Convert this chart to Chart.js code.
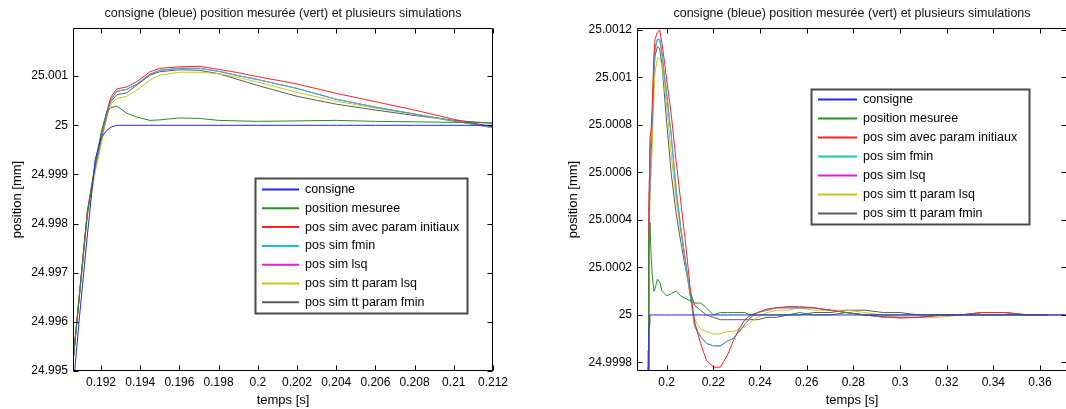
<!DOCTYPE html>
<html>
<head>
<meta charset="utf-8">
<title>Réponse indicielle - simulations</title>
<script src="https://cdn.jsdelivr.net/npm/chart.js@4/dist/chart.umd.min.js"></script>
<style>
    body { margin: 0; background: #fff; overflow: hidden; }
    #wrap { position: relative; width: 1066px; height: 409px; }
    #wrap canvas { position: absolute; top: 0; }
    #zoomChart { left: 0; }
    #fullChart { left: 533px; }
</style>
</head>
<body>
<div id="wrap">
    <canvas id="zoomChart" width="533" height="409"></canvas>
    <canvas id="fullChart" width="540" height="409"></canvas>
</div>
<script>
// ==========================
// DONNEES (temps en s, positions en mm)
// ==========================
const temps = [
    0.1905, 0.1909, 0.1913, 0.1917, 0.1920, 0.1923, 0.1925, 0.1928, 0.1933, 0.1938,
    0.1945, 0.1950, 0.1960, 0.1970, 0.1980, 0.1990, 0.2000, 0.2020, 0.2040, 0.2060,
    0.2080, 0.2100, 0.2120, 0.2145, 0.2170, 0.2200, 0.2230, 0.2260, 0.2285, 0.2310,
    0.2335, 0.2360, 0.2390, 0.2430, 0.2470, 0.2520, 0.2570, 0.2630, 0.2700, 0.2770,
    0.2850, 0.2930, 0.3000, 0.3080, 0.3170, 0.3260, 0.3350, 0.3450, 0.3550, 0.3635,
    0.3710
];

const consigne = [
    24.99430, 24.99610, 24.99775, 24.99930, 24.99974, 24.99990, 24.99996, 25.00000, 25.00000, 25.00000,
    25.00000, 25.00000, 25.00000, 25.00000, 25.00000, 25.00000, 25.00000, 25.00000, 25.00000, 25.00000,
    25.00000, 25.00000, 25.00000, 25.00000, 25.00000, 25.00000, 25.00000, 25.00000, 25.00000, 25.00000,
    25.00000, 25.00000, 25.00000, 25.00000, 25.00000, 25.00000, 25.00000, 25.00000, 25.00000, 25.00000,
    25.00000, 25.00000, 25.00000, 25.00000, 25.00000, 25.00000, 25.00000, 25.00000, 25.00000, 25.00000,
    25.00000
];

const positionMesuree = [
    24.99490, 24.99655, 24.99818, 24.99920, 24.99985, 25.00028, 25.00036, 25.00039, 25.00025, 25.00017,
    25.00010, 25.00011, 25.00015, 25.00014, 25.00010, 25.00009, 25.00008, 25.00009, 25.00010, 25.00008,
    25.00007, 25.00006, 25.00005, 25.00005, 25.00003, 25.00000, 25.00001, 25.00001, 25.00001, 25.00001,
    25.00001, 25.00000, 25.00000, 25.00000, 25.00000, 25.00000, 25.00001, 25.00000, 25.00000, 25.00001,
    25.00000, 25.00000, 25.00000, 25.00000, 25.00000, 25.00000, 25.00000, 25.00000, 25.00000, 25.00000,
    null
];

const simParamInitiaux = [
    24.99490, 24.99658, 24.99826, 24.99920, 24.99978, 25.00029, 25.00057, 25.00074, 25.00078, 25.00088,
    25.00109, 25.00116, 25.00119, 25.00120, 25.00114, 25.00107, 25.00099, 25.00084, 25.00065, 25.00048,
    25.00031, 25.00012, 24.99997, 24.99988, 24.99981, 24.99978, 24.99978, 24.99983, 24.99989, 24.99994,
    24.99998, 25.00000, 25.00001, 25.000025, 25.00003, 25.000035, 25.000035, 25.00003, 25.00002, 25.00001,
    25.00000, 24.999993, 24.999987, 24.99999, 24.999997, 25.00000, 25.00001, 25.00001, 25.00000, 25.00000,
    null
];

const simFmin = [
    24.99490, 24.99655, 24.99822, 24.99915, 24.99972, 25.00024, 25.00052, 25.00069, 25.00073, 25.00083,
    25.00104, 25.00112, 25.00116, 25.00116, 25.00110, 25.00101, 25.00093, 25.00075, 25.00053, 25.00037,
    25.00023, 25.00009, 24.99995, 24.99991, 24.99988, 24.99987, 24.99987, 24.99989, 24.99990, 24.99993,
    24.99996, 24.99999, 25.00001, 25.00002, 25.00003, 25.00003, 25.00003, 25.00003, 25.00002, 25.00001,
    25.00000, 24.99999, 24.99999, 24.99999, 25.00000, 25.00000, 25.00001, 25.00001, 25.00000, 25.00000,
    null
];

const simLsq = [
    24.99490, 24.99655, 24.99822, 24.99915, 24.99972, 25.00024, 25.00052, 25.00069, 25.00073, 25.00083,
    25.00104, 25.00112, 25.00116, 25.00116, 25.00110, 25.00101, 25.00093, 25.00075, 25.00053, 25.00037,
    25.00023, 25.00009, 24.99995, 24.99991, 24.99988, 24.99987, 24.99987, 24.99989, 24.99990, 24.99993,
    24.99996, 24.99999, 25.00001, 25.00002, 25.00003, 25.00003, 25.00003, 25.00003, 25.00002, 25.00001,
    25.00000, 24.99999, 24.99999, 24.99999, 25.00000, 25.00000, 25.00001, 25.00001, 25.00000, 25.00000,
    null
];

const simTtParamLsq = [
    24.99490, 24.99650, 24.99815, 24.99905, 24.99958, 25.00025, 25.00044, 25.00054, 25.00059, 25.00071,
    25.00092, 25.00102, 25.00108, 25.00108, 25.00105, 25.00097, 25.00088, 25.00067, 25.00049, 25.00035,
    25.00022, 25.00008, 24.99998, 24.99994, 24.99993, 24.99992, 24.99992, 24.99993, 24.99993, 24.99994,
    24.99995, 24.99997, 24.99999, 25.00001, 25.00002, 25.00002, 25.00003, 25.00002, 25.00002, 25.00002,
    25.00001, 25.00000, 24.99999, 24.99999, 24.99999, 25.00000, 25.00000, 25.00000, 25.00000, 25.00000,
    null
];

const simTtParamFmin = [
    24.99490, 24.99655, 24.99820, 24.99912, 24.99968, 25.00018, 25.00048, 25.00062, 25.00066, 25.00081,
    25.00102, 25.00109, 25.00113, 25.00112, 25.00105, 25.00093, 25.00081, 25.00059, 25.00043, 25.00031,
    25.00020, 25.00010, 25.00004, 25.00002, 25.00000, 24.99999, 24.99998, 24.99998, 24.99998, 24.99998,
    24.99998, 24.99998, 24.99998, 24.99999, 24.99999, 25.00000, 25.00000, 25.00001, 25.00001, 25.00002,
    25.00002, 25.00001, 25.00001, 25.00000, 25.00000, 25.00000, 25.00000, 25.00000, 25.00000, 25.00000,
    25.00000
];

const seriesNames = [
    'consigne',
    'position mesuree',
    'pos sim avec param initiaux',
    'pos sim fmin',
    'pos sim lsq',
    'pos sim tt param lsq',
    'pos sim tt param fmin'
];
const seriesValues = [consigne, positionMesuree, simParamInitiaux, simFmin, simLsq, simTtParamLsq, simTtParamFmin];
const seriesColors = ['#2626f2', '#1f931f', '#ff2020', '#1fc4c4', '#e01ee0', '#c8c81a', '#5a5a5a'];

// graduations
const zoomXTicks = [0.192, 0.194, 0.196, 0.198, 0.200, 0.202, 0.204, 0.206, 0.208, 0.210, 0.212];
const zoomXLabels = ['0.192', '0.194', '0.196', '0.198', '0.2', '0.202', '0.204', '0.206', '0.208', '0.21', '0.212'];
const zoomYTicks = [24.995, 24.996, 24.997, 24.998, 24.999, 25.000, 25.001];
const zoomYLabels = ['24.995', '24.996', '24.997', '24.998', '24.999', '25', '25.001'];

const fullXTicks = [0.20, 0.22, 0.24, 0.26, 0.28, 0.30, 0.32, 0.34, 0.36];
const fullXLabels = ['0.2', '0.22', '0.24', '0.26', '0.28', '0.3', '0.32', '0.34', '0.36'];
const fullYTicks = [24.9998, 25.0000, 25.0002, 25.0004, 25.0006, 25.0008, 25.0010, 25.0012];
const fullYLabels = ['24.9998', '25', '25.0002', '25.0004', '25.0006', '25.0008', '25.001', '25.0012'];

const titre = 'consigne (bleue) position mesurée (vert) et plusieurs simulations';

// ==========================
// PLUGINS : cadre + graduations internes, légende encadrée
// ==========================
const axesBox = {
    id: 'axesBox',
    afterDatasetsDraw(chart) {
        const { ctx, chartArea: a, scales } = chart;
        const L = Math.floor(a.left) + 0.5, R = Math.floor(a.right) - 0.5;
        const T = Math.floor(a.top) + 0.5, B = Math.floor(a.bottom) - 0.5;
        const len = 5;
        ctx.save();
        ctx.strokeStyle = '#000';
        ctx.lineWidth = 1;
        ctx.beginPath();
        ctx.rect(L, T, R - L, B - T);
        scales.x.ticks.forEach(t => {
            const px = Math.round(scales.x.getPixelForValue(t.value)) + 0.5;
            ctx.moveTo(px, B); ctx.lineTo(px, B - len);
            ctx.moveTo(px, T); ctx.lineTo(px, T + len);
        });
        scales.y.ticks.forEach(t => {
            const py = Math.round(scales.y.getPixelForValue(t.value)) + 0.5;
            ctx.moveTo(L, py); ctx.lineTo(L + len, py);
            ctx.moveTo(R, py); ctx.lineTo(R - len, py);
        });
        ctx.stroke();
        ctx.restore();
    }
};

const boxLegend = {
    id: 'boxLegend',
    afterDraw(chart, args, opts) {
        const { ctx } = chart;
        ctx.save();
        ctx.fillStyle = '#fff';
        ctx.fillRect(opts.x, opts.y, opts.w, opts.h);
        ctx.strokeStyle = '#4a4a4a';
        ctx.lineWidth = 2;
        ctx.strokeRect(opts.x + 0.5, opts.y + 0.5, opts.w, opts.h);
        ctx.font = '12.5px "Liberation Sans", Arial, sans-serif';
        ctx.textBaseline = 'middle';
        ctx.fillStyle = '#000';
        seriesNames.forEach((name, i) => {
            const y = opts.y + opts.row0 + i * opts.rowH;
            ctx.strokeStyle = seriesColors[i];
            ctx.lineWidth = 2;
            ctx.beginPath();
            ctx.moveTo(opts.x + 7, y);
            ctx.lineTo(opts.x + opts.lineEnd, y);
            ctx.stroke();
            ctx.fillText(name, opts.x + opts.textX, y);
        });
        ctx.restore();
    }
};

Chart.defaults.font.family = '"Liberation Sans", Arial, sans-serif';
Chart.defaults.font.size = 12;
Chart.defaults.color = '#000';

function buildDatasets() {
    return seriesValues.map((values, i) => ({
        label: seriesNames[i],
        data: temps.map((t, k) => ({ x: t, y: values[k] })).filter(p => p.y !== null),
        borderColor: seriesColors[i],
        borderWidth: 1,
        pointRadius: 0,
        tension: 0,
        fill: false
    }));
}

function makeChart(canvasId, cfg) {
    return new Chart(document.getElementById(canvasId), {
        type: 'line',
        data: { datasets: buildDatasets() },
        plugins: [axesBox, boxLegend],
        options: {
            responsive: false,
            animation: false,
            layout: { padding: cfg.padding },
            plugins: {
                legend: { display: false },
                tooltip: { enabled: false },
                title: {
                    display: true,
                    text: titre,
                    fullSize: false,
                    color: '#111',
                    font: { size: 12.5, weight: 'normal' },
                    padding: { top: 6.5, bottom: 6.5 }
                },
                boxLegend: cfg.legend
            },
            scales: {
                x: {
                    type: 'linear',
                    min: cfg.xMin,
                    max: cfg.xMax,
                    grid: { display: false, drawTicks: false },
                    border: { display: false },
                    afterBuildTicks: axis => { axis.ticks = cfg.xTicks.map(value => ({ value })); },
                    afterFit: axis => { axis.height = 38; },
                    ticks: {
                        autoSkip: false,
                        maxRotation: 0,
                        padding: 4,
                        callback: (v, i) => cfg.xLabels[i]
                    },
                    title: { display: true, text: 'temps [s]', font: { size: 13 }, padding: { top: 0, bottom: 1.2 } }
                },
                y: {
                    type: 'linear',
                    min: cfg.yMin,
                    max: cfg.yMax,
                    grid: { display: false, drawTicks: false },
                    border: { display: false },
                    afterBuildTicks: axis => { axis.ticks = cfg.yTicks.map(value => ({ value })); },
                    afterFit: axis => { axis.width = cfg.yWidth; },
                    ticks: {
                        autoSkip: false,
                        padding: 5,
                        callback: (v, i) => cfg.yLabels[i]
                    },
                    title: { display: true, text: 'position [mm]', font: { size: 13 }, padding: { top: cfg.yTitlePad, bottom: 0 } }
                }
            }
        }
    });
}

// vue zoomée sur la montée
makeChart('zoomChart', {
    padding: { left: 0, right: 40, top: 0, bottom: 0 },
    xMin: 0.19057, xMax: 0.212,
    yMin: 24.995, yMax: 25.00198,
    xTicks: zoomXTicks, xLabels: zoomXLabels,
    yTicks: zoomYTicks, yLabels: zoomYLabels,
    yWidth: 73, yTitlePad: 9.2,
    legend: { x: 255, y: 178, w: 212, h: 135, row0: 11.5, rowH: 18.8, lineEnd: 44, textX: 50 }
});

// vue complète du régime transitoire
makeChart('fullChart', {
    padding: { left: 0, right: 6, top: 0, bottom: 0 },
    xMin: 0.18727, xMax: 0.37157,
    yMin: 24.999764, yMax: 25.001208,
    xTicks: fullXTicks, xLabels: fullXLabels,
    yTicks: fullYTicks, yLabels: fullYLabels,
    yWidth: 104, yTitlePad: 32.2,
    legend: { x: 278, y: 89, w: 218, h: 135, row0: 10.5, rowH: 19, lineEnd: 46, textX: 52 }
});
</script>
</body>
</html>
